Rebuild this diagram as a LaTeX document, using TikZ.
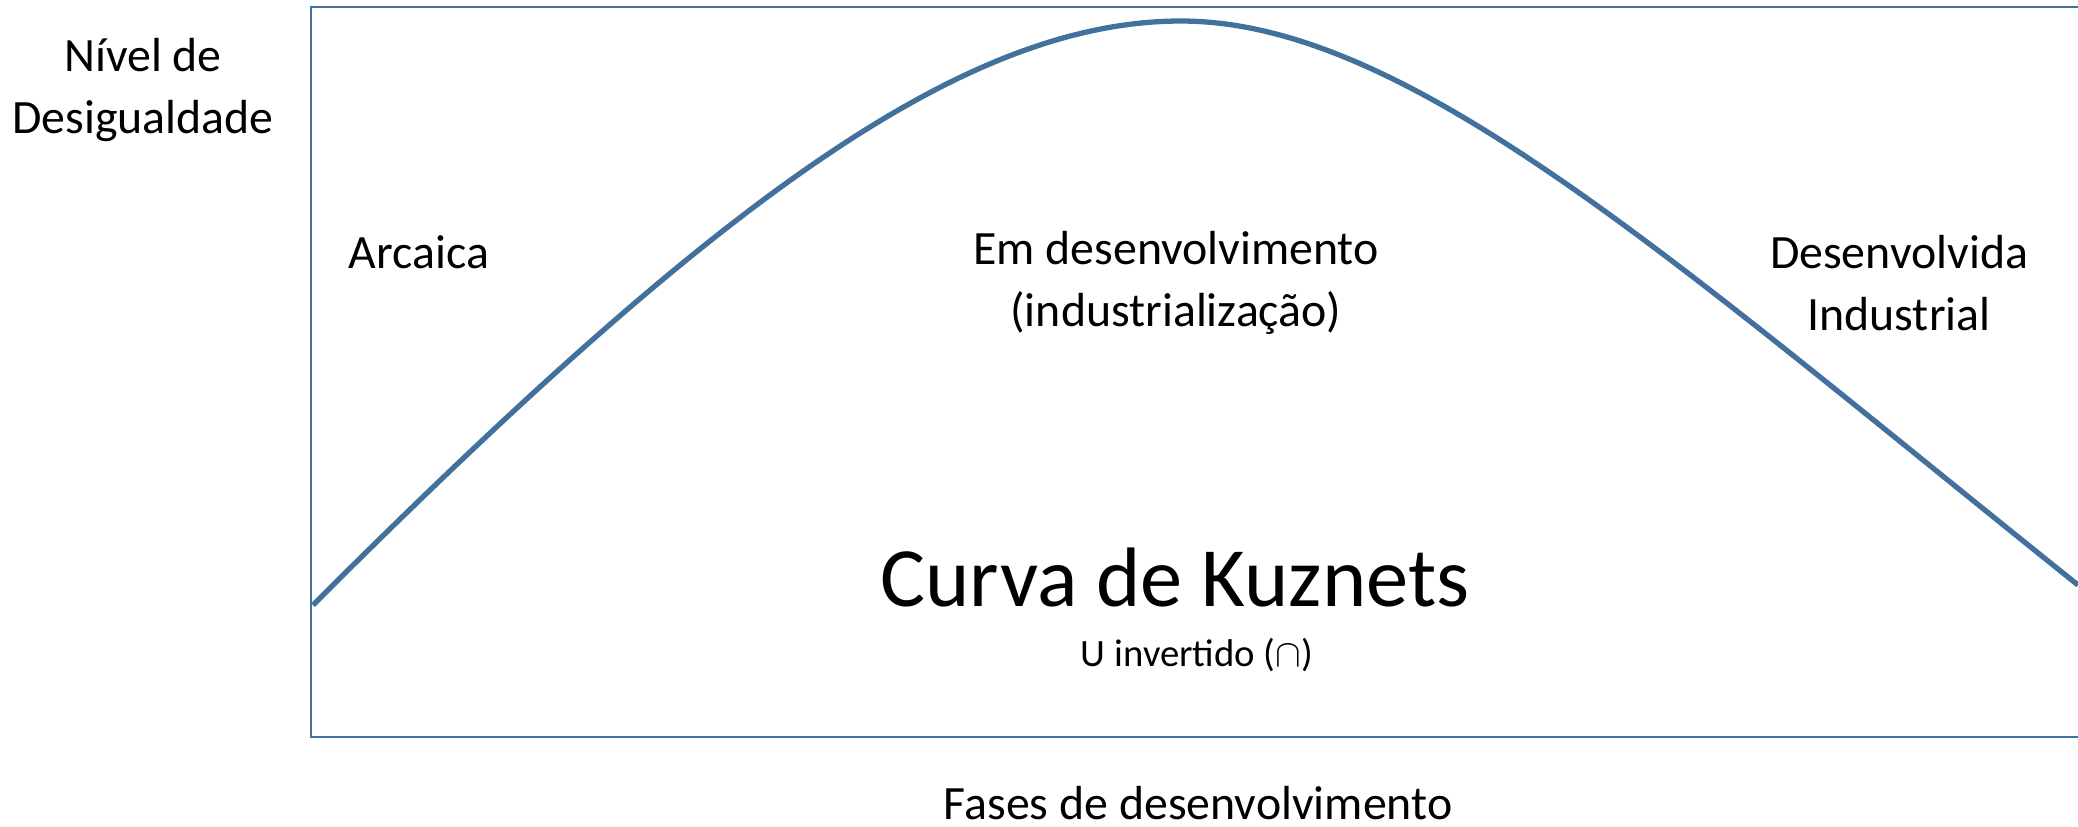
\documentclass[tikz,border=0pt]{standalone}
\usepackage{fontspec}
\setmainfont{Carlito}
\usetikzlibrary{positioning}

\definecolor{curvablue}{HTML}{41719C}

\begin{document}
\begin{tikzpicture}[x=0.01cm, y=-0.01cm,
    rotulo/.style={align=center, inner sep=0pt, font=\fontsize{13.6}{17.7}\selectfont},
    subtitulo/.style={inner sep=0pt, font=\fontsize{11}{14}\selectfont},
    titulo/.style={inner sep=0pt, font=\fontsize{24}{29}\selectfont}]
  \useasboundingbox (0,0) rectangle (2078,826);

  % Frame (right side runs off the picture)
  \draw[curvablue, line width=0.7pt] (2078,7) -- (311,7) -- (311,737) -- (2078,737);

  % Inverted U curve
  \coordinate (inicio) at (313,605);
  \coordinate (pico) at (1181,21);
  \coordinate (fim) at (2078,585);
  \draw[curvablue, line width=1.5pt]
    (inicio) .. controls (713,205) and (962,21) .. (pico)
             .. controls (1409,21) and (1678,265) .. (fim);

  % Axis labels
  \node[rotulo] (eixoy) at (143,90) {Nível de\\Desigualdade};
  \node[rotulo] (eixox) at (1198,803) {Fases de desenvolvimento};

  % Phases
  \node[rotulo] (arcaica) at (419,252) {Arcaica};
  \node[rotulo] (emdesenv) at (1176,283) {Em desenvolvimento\\(industrialização)};
  \node[rotulo] (desenv) at (1899,283) {Desenvolvida\\Industrial};

  % Title
  \node[titulo] (curva) at (1175,577) {Curva de Kuznets};
  \node[subtitulo] (uinv) at (1197,655) {U invertido ($\cap$)};
\end{tikzpicture}
\end{document}
